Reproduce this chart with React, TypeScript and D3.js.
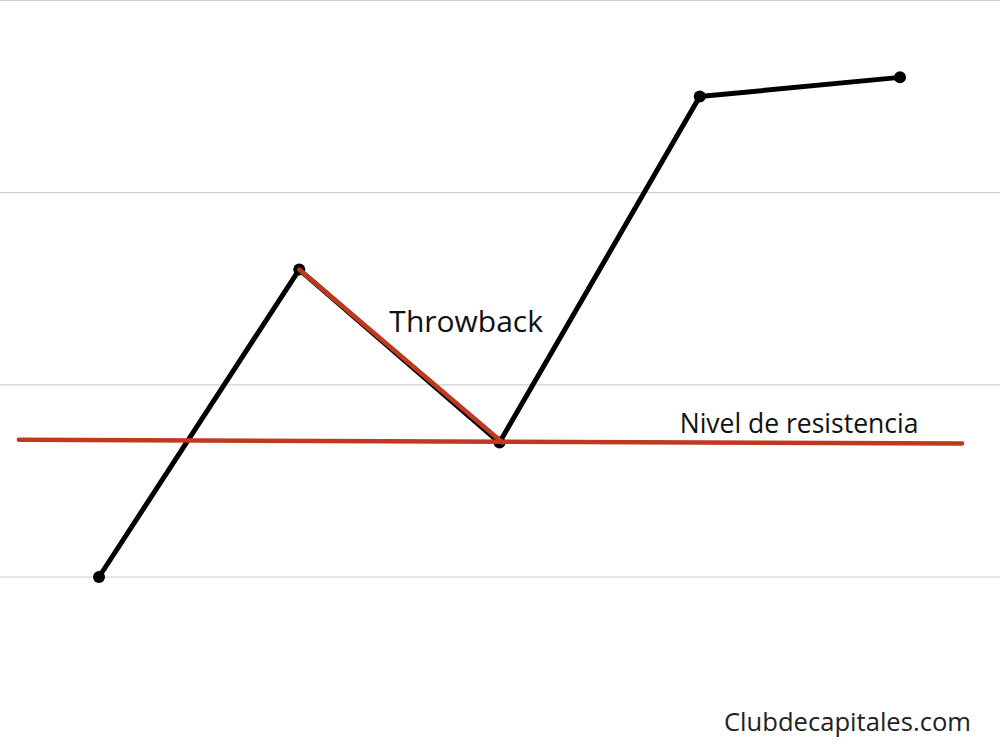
import React from "react";
import * as d3 from "d3";

const WIDTH = 1000;
const HEIGHT = 750;

// price path (x = step index, y = price level)
const steps = [0, 1, 2, 3, 4];
const prices = [0, 1.6, 0.7, 2.5, 2.6];

// resistance line end points
const resistanceSteps = [-0.4, 4.31];
const resistanceLevels = [0.714, 0.695];

// throwback segment: from the peak back to the retest
const throwbackIdx = [1, 2];

const gridLevels = [0, 1, 2, 3];

const labels = [
  { text: "Throwback", step: 1.45, level: 1.275, size: 30 },
  { text: "Nivel de resistencia", step: 2.9, level: 0.75, size: 26.5 },
];

const RED = "#c0391f";
const FONT = "'Open Sans', 'Noto Sans', sans-serif";

const App = () => {
  const xScale = d3.scaleLinear().domain([0, 4]).range([99, 900]);
  const yScale = d3.scaleLinear().domain([0, 3]).range([577, 0.5]);

  const line = d3
    .line<number>()
    .x((_, i) => xScale(steps[i]))
    .y((d) => yScale(d));

  const resistance = d3
    .line<number>()
    .x((_, i) => xScale(resistanceSteps[i]))
    .y((d) => yScale(d));

  const throwback = throwbackIdx.map((i) => prices[i]);
  const throwbackLine = d3
    .line<number>()
    .x((_, i) => xScale(steps[throwbackIdx[i]]) + (i === 1 ? 3 : 0))
    .y((d) => yScale(d));

  return (
    <svg
      width={WIDTH}
      height={HEIGHT}
      style={{ position: "absolute", left: 0, top: 0, background: "#fff" }}
    >
      {gridLevels.map((g) => (
        <line
          key={g}
          x1={0}
          x2={WIDTH}
          y1={yScale(g)}
          y2={yScale(g)}
          stroke="#cfcfcf"
          strokeWidth={1.2}
        />
      ))}
      <path
        d={line(prices) ?? ""}
        fill="none"
        stroke="#000"
        strokeWidth={5}
        strokeLinejoin="round"
      />
      {prices.map((p, i) => (
        <circle key={i} cx={xScale(steps[i])} cy={yScale(p)} r={6} fill="#000" />
      ))}
      <path
        d={resistance(resistanceLevels) ?? ""}
        fill="none"
        stroke={RED}
        strokeWidth={4.5}
        strokeLinecap="round"
      />
      <path
        d={throwbackLine(throwback) ?? ""}
        fill="none"
        stroke={RED}
        strokeWidth={4.5}
        strokeLinecap="round"
      />
      {labels.map((l) => (
        <text
          key={l.text}
          x={xScale(l.step)}
          y={yScale(l.level)}
          fontFamily={FONT}
          fontSize={l.size}
          fill="#111"
        >
          {l.text}
        </text>
      ))}
      <text
        x={971}
        y={731}
        textAnchor="end"
        fontFamily={FONT}
        fontSize={25.6}
        fill="#222"
      >
        Clubdecapitales.com
      </text>
    </svg>
  );
};

export default App;
